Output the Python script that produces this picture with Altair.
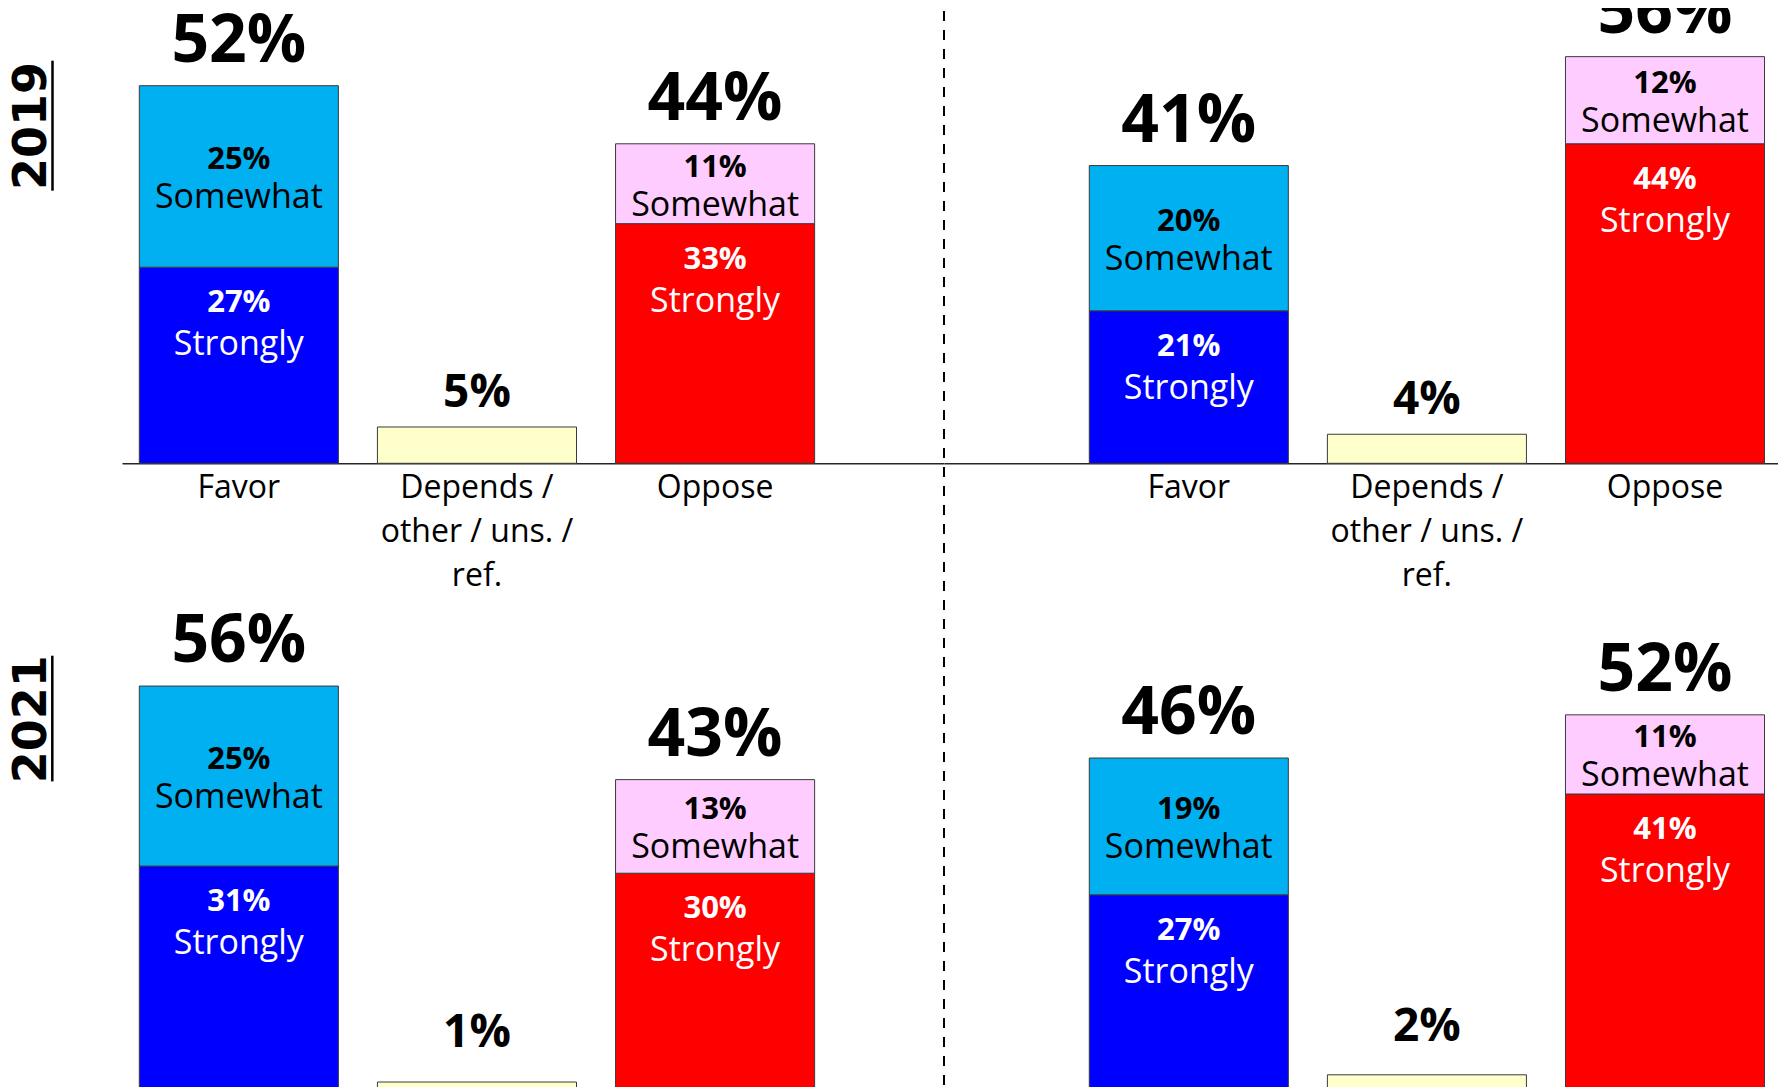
import altair as alt
import pandas as pd

# ---------------- data ----------------
years = ["2019", "2019", "2021", "2021"]
sides = ["left", "right", "left", "right"]
categories = ["Favor", "Depends /\nother / uns. /\nref.", "Oppose"]
favor_strongly = [27, 21, 31, 27]
favor_somewhat = [25, 20, 25, 19]
depends_other = [5, 4, 1, 2]
oppose_strongly = [33, 44, 30, 41]
oppose_somewhat = [11, 12, 13, 11]

segments = ["Favor Strongly", "Favor Somewhat", "Depends", "Oppose Strongly", "Oppose Somewhat"]
segment_colors = ["#0000FF", "#00B0F0", "#FFFFCC", "#FF0000", "#FFCCFF"]

rows = []
for i in range(4):
    p = years[i] + "-" + sides[i]
    rows += [
        dict(panel=p, category=categories[0], level="Strongly", segment=segments[0], order=0, value=favor_strongly[i]),
        dict(panel=p, category=categories[0], level="Somewhat", segment=segments[1], order=1, value=favor_somewhat[i]),
        dict(panel=p, category=categories[1], level="Other", segment=segments[2], order=0, value=depends_other[i]),
        dict(panel=p, category=categories[2], level="Strongly", segment=segments[3], order=0, value=oppose_strongly[i]),
        dict(panel=p, category=categories[2], level="Somewhat", segment=segments[4], order=1, value=oppose_somewhat[i]),
    ]
df = pd.DataFrame(rows)

FONT = "Open Sans"
Y_MAX = 62.7


def make_panel(idx, width, height, pad_outer, align, year_title=None, title_y=None,
               underline=None, dashed=False, clip_top=False, small_dy=-20):
    pname = years[idx] + "-" + sides[idx]
    base = alt.Chart(df).transform_filter(alt.datum.panel == pname)

    xscale = alt.Scale(domain=categories, paddingInner=0.164, paddingOuter=pad_outer, align=align)
    yscale = alt.Scale(domain=[0, Y_MAX], nice=False, zero=True)
    xaxis = alt.Axis(title=None, labelExpr="split(datum.label, '\\n')", labelAngle=0,
                     labelFont=FONT, labelFontSize=32, labelColor="black", labelPadding=9,
                     labelLineHeight=44, labelLimit=400, labelOverlap=False,
                     labelBaseline="top", ticks=False, domainColor="#262626",
                     domainWidth=1.5, grid=False)
    if year_title:
        yaxis = alt.Axis(title=year_title, titleAngle=270, titleX=-77, titleY=title_y,
                         titleAlign="center", titleBaseline="alphabetic",
                         titleFont="DejaVu Sans", titleFontSize=46, titleFontWeight="bold",
                         titleColor="black", domain=False, ticks=False, labels=False, grid=False)
    else:
        yaxis = None

    X = alt.X("category:N", scale=xscale, axis=xaxis)

    def Y(field):
        return alt.Y(field, scale=yscale, axis=yaxis)

    stacked = base.transform_stack(
        stack="value", groupby=["category"],
        sort=[alt.SortField("order", order="ascending")], as_=["y0", "y1"]
    ).transform_calculate(mid="(datum.y0 + datum.y1) / 2", pct="datum.value + '%'")

    bars = stacked.mark_bar(stroke="#3a3a3a", strokeWidth=1).encode(
        x=X, y=Y("y0:Q"), y2="y1:Q",
        color=alt.Color("segment:N", scale=alt.Scale(domain=segments, range=segment_colors), legend=None),
    )

    some = stacked.transform_filter(alt.datum.level == "Somewhat")
    some_pct = some.mark_text(font=FONT, fontWeight="bold", fontSize=31, baseline="alphabetic",
                              dy=-7, color="black").encode(x=X, y=Y("mid:Q"), text="pct:N")
    some_word = some.mark_text(font=FONT, fontSize=34, baseline="alphabetic",
                               dy=32, color="black").encode(x=X, y=Y("mid:Q"), text="level:N")

    strong = stacked.transform_filter(alt.datum.level == "Strongly")
    strong_pct = strong.mark_text(font=FONT, fontWeight="bold", fontSize=31, baseline="alphabetic",
                                  dy=45, color="white").encode(x=X, y=Y("y1:Q"), text="pct:N")
    strong_word = strong.mark_text(font=FONT, fontSize=34, baseline="alphabetic",
                                   dy=88, color="white").encode(x=X, y=Y("y1:Q"), text="level:N")

    totals = base.transform_aggregate(total="sum(value)", groupby=["category"]).transform_calculate(
        lbl="datum.total + '%'")
    big = totals.transform_filter(
        alt.FieldOneOfPredicate(field="category", oneOf=[categories[0], categories[2]])
    ).mark_text(font=FONT, fontWeight="bold", fontSize=66, baseline="alphabetic", dy=-24,
                clip=clip_top, color="black").encode(x=X, y=Y("total:Q"), text="lbl:N")
    small = totals.transform_filter(
        alt.FieldOneOfPredicate(field="category", oneOf=[categories[1]])
    ).mark_text(font=FONT, fontWeight="bold", fontSize=46, baseline="alphabetic", dy=small_dy,
                clip=clip_top, color="black").encode(x=X, y=Y("total:Q"), text="lbl:N")

    layers = [bars, some_pct, some_word, strong_pct, strong_word, big, small]
    one = alt.Chart(pd.DataFrame({"k": [0]}))
    if underline:
        ux, uy1, uy2 = underline
        layers.append(one.mark_rule(color="black", strokeWidth=2.5).encode(
            x=alt.value(ux), y=alt.value(uy1), y2=alt.value(uy2)))
    if dashed:
        layers.append(one.mark_rule(color="black", strokeWidth=2, strokeDash=[10, 9]).encode(
            x=alt.value(0), y=alt.value(3), y2=alt.value(1100)))

    return alt.layer(*layers).properties(width=width, height=height)


TOP_H = 455.3
BOT_H = 451.4
LEFT_W = 822
RIGHT_W = 843

tl = make_panel(0, LEFT_W, TOP_H, 0.308, 0.118, "2019", 117.4, (-69.5, 52.7, 182.7),
                clip_top=True, small_dy=-20)
tr = make_panel(1, RIGHT_W, TOP_H, 0.3523, 0.866, dashed=True, clip_top=True, small_dy=-20)
bl = make_panel(2, LEFT_W, BOT_H, 0.308, 0.118, "2021", 80.9, (-69.7, 17.9, 143.6),
                small_dy=-35)
br = make_panel(3, RIGHT_W, BOT_H, 0.3523, 0.866, small_dy=-34)

chart = alt.concat(
    tl, tr, bl, br, columns=2, spacing={"row": 173.8, "column": 0},
    bounds="flush", align="each"
).resolve_scale(x="independent", y="independent").properties(
    padding={"left": -1, "top": 0, "right": -9, "bottom": 0}
).configure_view(stroke=None)

chart.save("out.html", embed_options={"renderer": "svg", "actions": False})
